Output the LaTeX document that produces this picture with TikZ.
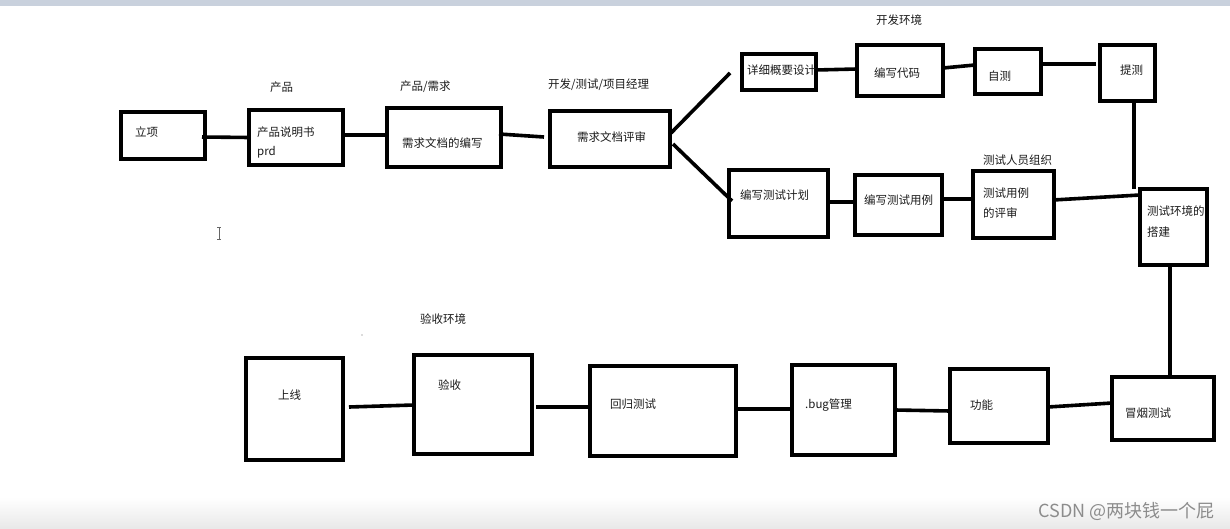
\documentclass[tikz,border=0pt]{standalone}
\usepackage{fontspec}
\setmainfont{Noto Sans CJK SC}
\usetikzlibrary{calc}
\definecolor{stripcol}{HTML}{C9D1DD}
\definecolor{inkcol}{HTML}{1A1A1A}
\tikzset{
  box/.style={draw=black, line width=3.6pt, inner sep=0pt, outer sep=0pt},
  conn/.style={draw=black, line width=3.6pt},
  txt/.style={anchor=west, inner sep=0pt, text=inkcol, font=\fontsize{11.5}{13}\selectfont},
}
\begin{document}
\begin{tikzpicture}[x=1pt,y=-1pt]
\useasboundingbox (0,0) rectangle (1230,529);
% screenshot frame
\fill[stripcol] (0,0) rectangle (1230,6);
\shade[top color=white, bottom color=black!9] (0,497) rectangle (1230,529);

% boxes
\node[box, minimum width=84pt,  minimum height=47pt] (lx)  at (163,135.5) {};
\node[box, minimum width=94pt,  minimum height=55pt] (prd) at (296,137.5) {};
\node[box, minimum width=114pt, minimum height=59pt] (xq)  at (444,137.5) {};
\node[box, minimum width=120pt, minimum height=56pt] (ps)  at (610,139) {};
\node[box, minimum width=74pt,  minimum height=36pt] (xs)  at (779,72) {};
\node[box, minimum width=86pt,  minimum height=51pt] (dm)  at (900,70.5) {};
\node[box, minimum width=66pt,  minimum height=45pt] (zc)  at (1008,71.5) {};
\node[box, minimum width=55pt,  minimum height=56pt] (tc)  at (1127.5,73) {};
\node[box, minimum width=99pt,  minimum height=67pt] (jh)  at (778.5,203.5) {};
\node[box, minimum width=87pt,  minimum height=60pt] (yl)  at (898.5,205) {};
\node[box, minimum width=81pt,  minimum height=67pt] (pp)  at (1013.5,204.5) {};
\node[box, minimum width=67pt,  minimum height=76pt] (hj)  at (1173.5,227) {};
\node[box, minimum width=102pt, minimum height=63pt] (my)  at (1163,408.5) {};
\node[box, minimum width=98pt,  minimum height=74pt] (gn)  at (999,406) {};
\node[box, minimum width=103pt, minimum height=90pt] (bug) at (843.5,410) {};
\node[box, minimum width=146pt, minimum height=90pt] (hg)  at (663,411) {};
\node[box, minimum width=118pt, minimum height=99pt] (ys)  at (473,404.5) {};
\node[box, minimum width=97pt,  minimum height=102pt] (sx) at (294.5,409) {};

% texts in boxes
\node[txt] (t-lx) at (135,132) {立项};
\node[txt] (t-prd1) at (257,132) {产品说明书};
\node[txt] (t-prd2) at (257,152) {prd};
\node[txt] (t-xq) at (402,143) {需求文档的编写};
\node[txt] (t-ps) at (577,137) {需求文档评审};
\node[txt] (t-xs) at (747,70) {详细概要设计};
\node[txt] (t-dm) at (874,73) {编写代码};
\node[txt] (t-zc) at (988,76) {自测};
\node[txt] (t-tc) at (1120,70) {提测};
\node[txt] (t-jh) at (740,195) {编写测试计划};
\node[txt] (t-yl) at (864,200) {编写测试用例};
\node[txt] (t-pp1) at (983,193) {测试用例};
\node[txt] (t-pp2) at (983,213) {的评审};
\node[txt] (t-hj1) at (1147,211) {测试环境的};
\node[txt] (t-hj2) at (1147,232) {搭建};
\node[txt] (t-my) at (1125,413) {冒烟测试};
\node[txt] (t-gn) at (970,405) {功能};
\node[txt] (t-bug) at (805,405) {.bug管理};
\node[txt] (t-hg) at (610,404) {回归测试};
\node[txt] (t-ys) at (438,385) {验收};
\node[txt] (t-sx) at (278,395) {上线};

% labels above boxes
\node[txt] (l-cp) at (270,87) {产品};
\node[txt] (l-cpxq) at (400,87) {产品/需求};
\node[txt] (l-kf) at (548,85) {开发/测试/项目经理};
\node[txt] (l-kfhj) at (876,20) {开发环境};
\node[txt] (l-cs) at (983,160) {测试人员组织};
\node[txt] (l-yshj) at (420,319) {验收环境};

% connectors
\draw[conn] ($(lx.east)+(-3,1.5)$) -- (prd.west);
\draw[conn] ($(prd.east)+(0,-2.5)$) -- ($(xq.west)+(0,-2.5)$);
\draw[conn] ($(xq.east)+(-2,-3.5)$) -- ($(ps.west)+(-6,-2)$);
\draw[conn] ($(ps.east)+(1,-6)$) -- ($(xs.west)+(-12,1)$);
\draw[conn] ($(ps.east)+(3,5)$) -- ($(jh.west)+(3,-2.5)$);
\draw[conn] ($(xs.east)+(0,-2)$) -- ($(dm.west)+(0,-1.5)$);
\draw[conn] ($(dm.east)+(0,-2.5)$) -- ($(zc.west)+(0,-6.5)$);
\draw[conn] ($(zc.east)+(0,-7.5)$) -- ($(tc.west)+(-4,-9)$);
\coordinate (tcb) at ($(tc.south)+(6.5,0)$);
\draw[conn] (tcb) -- (tcb |- hj.north);
\draw[conn] ($(jh.east)+(0,-1.5)$) -- ($(yl.west)+(0,-3)$);
\draw[conn] ($(yl.east)+(0,-6)$) -- ($(pp.west)+(0,-5.5)$);
\draw[conn] ($(pp.east)+(-1,-4.5)$) -- ($(hj.west)+(0,-32)$);
\coordinate (hjb) at ($(hj.south)+(-3.5,0)$);
\draw[conn] (hjb) -- (hjb |- my.north);
\draw[conn] ($(my.west)+(0,-5.5)$) -- ($(gn.east)+(0,1)$);
\draw[conn] ($(gn.west)+(0,5)$) -- (bug.east);
\draw[conn] ($(bug.west)+(-2,-1)$) -- ($(hg.east)+(0,-2)$);
\draw[conn] ($(hg.west)+(0,-4)$) -- ($(ys.east)+(4,2.5)$);
\draw[conn] ($(ys.west)+(0,0.5)$) -- ($(sx.east)+(6,-2)$);

% screenshot artefacts
\fill[black!60] (362,335) circle (0.7);
\draw[black!60, line width=0.9pt] (219,227.5) -- (219,239.5)
  (217,227.5) -- (221,227.5) (217,239.5) -- (221,239.5);
\node[anchor=east, inner sep=0pt, text=black!45, font=\fontsize{18}{20}\selectfont] (wm) at (1215,511) {CSDN @两块钱一个屁};
\end{tikzpicture}
\end{document}
